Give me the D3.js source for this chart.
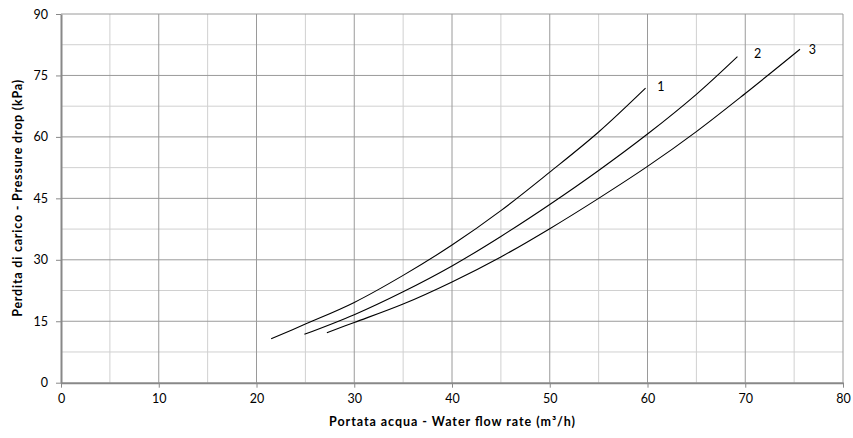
<!DOCTYPE html>
<html>
<head>
<meta charset="utf-8">
<script src="https://cdn.jsdelivr.net/npm/d3@7"></script>
<style>
  html, body { margin: 0; padding: 0; background: #fff; }
  svg { display: block; font-family: Lato, "Open Sans", sans-serif; }
</style>
</head>
<body>
<svg id="chart" width="853" height="438"></svg>
<script>
// Data
const flow1 = [21.5, 25, 30, 35, 40, 45, 50, 55, 59.8];
const drop1 = [10.7, 14.3, 19.6, 26.2, 33.6, 42.0, 51.4, 61.2, 71.9];
const flow2 = [24.9, 30, 35, 40, 45, 50, 55, 60, 65, 69.2];
const drop2 = [11.8, 16.6, 22.2, 28.5, 35.7, 43.5, 51.8, 60.7, 70.4, 79.6];
const flow3 = [27.2, 30, 35, 40, 45, 50, 55, 60, 65, 70, 75.6];
const drop3 = [12.2, 14.7, 19.2, 24.6, 30.7, 37.6, 45.0, 52.8, 61.3, 70.6, 81.4];
const seriesNames = ["1", "2", "3"];
const labelX = [61.0, 70.9, 76.5];
const labelY = [72.2, 80.4, 81.2];
const xTicks = [0, 10, 20, 30, 40, 50, 60, 70, 80];
const yTicks = [0, 15, 30, 45, 60, 75, 90];
const xMinor = [5, 15, 25, 35, 45, 55, 65, 75];
const yMinor = [7.5, 22.5, 37.5, 52.5, 67.5, 82.5];
const xTitle = "Portata acqua - Water flow rate (m³/h)";
const yTitle = "Perdita di carico - Pressure drop (kPa)";

const svg = d3.select("#chart");
const L = 61, R = 843, T = 14, B = 382.7;
const x = d3.scaleLinear().domain([0, 80]).range([L, R]);
const y = d3.scaleLinear().domain([0, 90]).range([B, T]);

// minor grid
svg.append("g").selectAll("line").data(xMinor).join("line")
  .attr("x1", d => x(d)).attr("x2", d => x(d)).attr("y1", T).attr("y2", B)
  .attr("stroke", "#d0d0d0").attr("stroke-width", 1);
svg.append("g").selectAll("line").data(yMinor).join("line")
  .attr("y1", d => y(d)).attr("y2", d => y(d)).attr("x1", L).attr("x2", R)
  .attr("stroke", "#d0d0d0").attr("stroke-width", 1);
// major grid
svg.append("g").selectAll("line").data(xTicks.slice(1)).join("line")
  .attr("x1", d => x(d)).attr("x2", d => x(d)).attr("y1", T).attr("y2", B)
  .attr("stroke", "#9a9a9a").attr("stroke-width", 1);
svg.append("g").selectAll("line").data(yTicks.slice(1)).join("line")
  .attr("y1", d => y(d)).attr("y2", d => y(d)).attr("x1", L).attr("x2", R)
  .attr("stroke", "#9a9a9a").attr("stroke-width", 1);

// axes
const xAxis = svg.append("g").attr("transform", `translate(0,${B})`)
  .call(d3.axisBottom(x).tickValues(xTicks).tickSize(5).tickSizeOuter(0).tickPadding(6));
const yAxis = svg.append("g").attr("transform", `translate(${L},0)`)
  .call(d3.axisLeft(y).tickValues(yTicks).tickSize(5).tickSizeOuter(0).tickPadding(8));
[xAxis, yAxis].forEach(g => {
  g.select(".domain").attr("stroke", "#888").attr("stroke-width", 2);
  g.selectAll(".tick line").attr("stroke", "#888").attr("stroke-width", 1);
  g.selectAll(".tick text").attr("fill", "#000").style("font-size", "12.5px")
    .style("font-family", "Lato, 'Open Sans', sans-serif");
});

// curves
const line = d3.line().x(d => x(d[0])).y(d => y(d[1])).curve(d3.curveCatmullRom.alpha(0.5));
const series = [
  d3.zip(flow1, drop1),
  d3.zip(flow2, drop2),
  d3.zip(flow3, drop3)
];
svg.append("g").selectAll("path").data(series).join("path")
  .attr("d", line).attr("fill", "none").attr("stroke", "#000").attr("stroke-width", 1.1);

// labels
svg.append("g").selectAll("text").data(seriesNames).join("text")
  .attr("x", (d, i) => x(labelX[i])).attr("y", (d, i) => y(labelY[i]))
  .attr("dy", "0.35em").style("font-size", "12.5px").text(d => d);

// titles
svg.append("text").attr("x", (L + R) / 2).attr("y", 426)
  .attr("text-anchor", "middle").style("font-size", "12.5px").style("font-weight", "bold")
  .attr("textLength", 246).attr("lengthAdjust", "spacing")
  .text(xTitle);
svg.append("text").attr("transform", `translate(22,${(T + B) / 2}) rotate(-90)`)
  .attr("text-anchor", "middle").style("font-size", "12.5px").style("font-weight", "bold")
  .attr("textLength", 237).attr("lengthAdjust", "spacing")
  .text(yTitle);
</script>
</body>
</html>
